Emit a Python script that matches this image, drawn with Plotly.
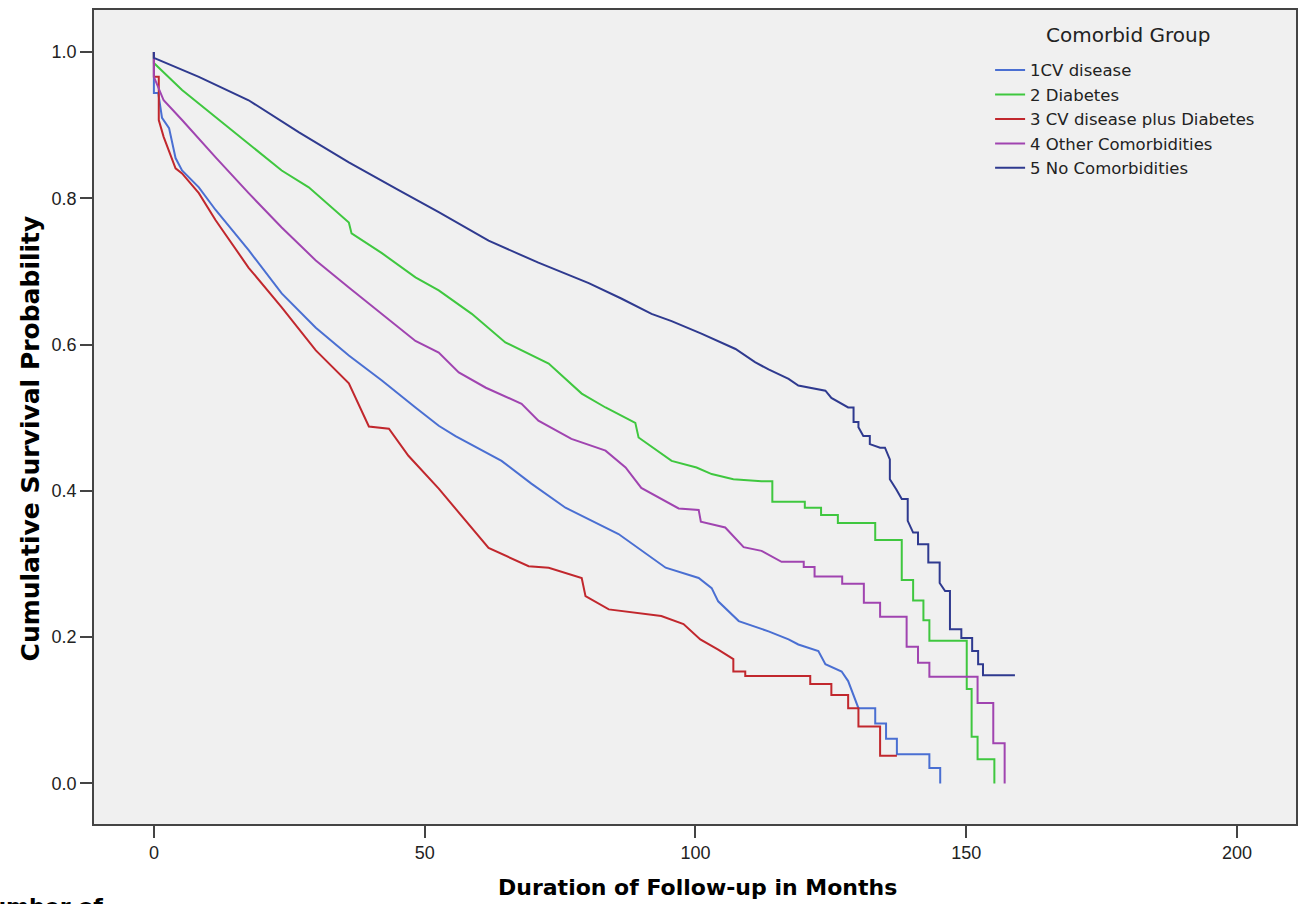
import plotly.graph_objects as go

# ---- data (months, cumulative survival) ----
t_cv = [0, 0, 0.8, 1.5, 2.8, 4, 5.2, 8.3, 11.4, 17.5, 23.6, 29.9, 36, 42.1, 48.3, 52.6, 55.7,
        64.2, 69.7, 76, 85.8, 94.5, 100.6, 103, 104.2, 108, 113.5, 117.2, 119, 122.7, 124,
        127, 128.2, 129.2, 130.1, 133.2, 133.2, 135.2, 135.2, 137.2, 137.2, 143.2, 143.2,
        145.2, 145.2]
s_cv = [1.0, 0.944, 0.944, 0.91, 0.896, 0.855, 0.838, 0.815, 0.784, 0.729, 0.67, 0.623, 0.585,
        0.551, 0.514, 0.489, 0.475, 0.441, 0.41, 0.377, 0.341, 0.295, 0.281, 0.267, 0.249,
        0.222, 0.208, 0.197, 0.19, 0.181, 0.163, 0.153, 0.14, 0.119, 0.103, 0.103, 0.082,
        0.082, 0.061, 0.061, 0.040, 0.040, 0.021, 0.021, 0.0]

t_diab = [0, 0, 5.2, 11.4, 17.5, 23.6, 28.6, 36, 36.5, 42.1, 48.3, 52.6, 58.7, 64.9, 72.9, 79,
          83.4, 88.9, 89.5, 95.6, 100.2, 103, 107, 112.2, 114.2, 114.2, 120.2, 120.2, 123.2,
          123.2, 126.3, 126.3, 133.2, 133.2, 138.1, 138.1, 140.2, 140.2, 142.1, 142.1, 143.2,
          143.2, 150.1, 150.1, 151.0, 151.0, 152.1, 152.1, 155.2, 155.2]
s_diab = [1.0, 0.985, 0.948, 0.911, 0.875, 0.838, 0.815, 0.767, 0.752, 0.725, 0.692, 0.674,
          0.642, 0.603, 0.574, 0.533, 0.514, 0.493, 0.473, 0.441, 0.432, 0.423, 0.416, 0.413,
          0.413, 0.385, 0.385, 0.377, 0.377, 0.367, 0.367, 0.356, 0.356, 0.333, 0.333, 0.278,
          0.278, 0.25, 0.25, 0.223, 0.223, 0.195, 0.195, 0.129, 0.129, 0.064, 0.064, 0.033,
          0.033, 0.0]

t_cvdiab = [0, 0, 0.9, 0.9, 1.8, 3.1, 4, 5.2, 8.3, 11.4, 17.5, 23.6, 29.9, 36, 39.7, 43.4, 47,
            52.6, 61.8, 69.2, 72.9, 79, 79.7, 84, 90.8, 93.7, 97.8, 100.9, 104.2, 107, 107,
            109.2, 109.2, 121.2, 121.2, 125.1, 125.1, 128.2, 128.2, 130.1, 130.1, 134.1,
            134.1, 137.2]
s_cvdiab = [1.0, 0.966, 0.966, 0.907, 0.884, 0.859, 0.841, 0.834, 0.807, 0.77, 0.705, 0.651,
            0.592, 0.547, 0.488, 0.485, 0.448, 0.403, 0.322, 0.297, 0.295, 0.281, 0.256, 0.238,
            0.232, 0.229, 0.218, 0.197, 0.183, 0.17, 0.153, 0.153, 0.147, 0.147, 0.136,
            0.136, 0.121, 0.121, 0.103, 0.103, 0.078, 0.078, 0.038, 0.038]

t_other = [0, 0, 1.8, 5.2, 11.4, 17.5, 23.6, 29.9, 36, 42.1, 48.3, 52.6, 56.3, 61.3, 67.9, 71,
           77.1, 83.4, 87.1, 90, 96.9, 100.6, 101, 105.5, 108.9, 112.2, 115.9, 120, 120, 122,
           122, 127.1, 127.1, 131.1, 131.1, 134.1, 134.1, 139.0, 139.0, 141.1, 141.1, 143.2,
           143.2, 152.1, 152.1, 155.0, 155.0, 157.1, 157.1]
s_other = [1.0, 0.966, 0.934, 0.907, 0.856, 0.807, 0.76, 0.715, 0.678, 0.642, 0.605, 0.589,
           0.562, 0.541, 0.519, 0.496, 0.471, 0.455, 0.432, 0.404, 0.376, 0.374, 0.358, 0.35,
           0.323, 0.318, 0.303, 0.303, 0.296, 0.296, 0.283, 0.283, 0.273, 0.273, 0.247, 0.247,
           0.228, 0.228, 0.187, 0.187, 0.165, 0.165, 0.146, 0.146, 0.11, 0.11, 0.055, 0.055,
           0.0]

t_none = [0, 0, 8.3, 17.5, 26.8, 36, 45.2, 52.6, 61.8, 71, 80.3, 86.3, 91.9, 95.6, 101.1, 104.8,
          107.4, 111, 113.5, 117.2, 119, 124, 125.1, 128.2, 129.2, 129.2, 130.1, 130.1, 131.0,
          132.2, 132.2, 134.1, 135.0, 135.9, 135.9, 137.1, 138.1, 139.2, 139.2, 140.2, 141.1,
          141.1, 143.0, 143.0, 145.1, 145.1, 146.1, 147.0, 147.0, 149.1, 149.1, 151.1, 151.1,
          152.2, 152.2, 153.1, 153.1, 159.0]
s_none = [1.0, 0.992, 0.966, 0.934, 0.89, 0.849, 0.811, 0.781, 0.742, 0.712, 0.684, 0.663,
          0.642, 0.632, 0.615, 0.603, 0.594, 0.576, 0.566, 0.553, 0.544, 0.537, 0.527, 0.514,
          0.514, 0.494, 0.494, 0.487, 0.475, 0.475, 0.464, 0.459, 0.459, 0.443, 0.416, 0.402,
          0.389, 0.389, 0.359, 0.343, 0.343, 0.327, 0.327, 0.302, 0.302, 0.274, 0.263, 0.263,
          0.211, 0.211, 0.199, 0.199, 0.181, 0.181, 0.163, 0.163, 0.148, 0.148]

group_names = ["1CV disease", "2 Diabetes", "3 CV disease plus Diabetes",
               "4 Other Comorbidities", "5 No Comorbidities"]
group_colors = ["#4A6FD2", "#3FC73F", "#C1272D", "#A044B0", "#2F3A8F"]
series_t = [t_cv, t_diab, t_cvdiab, t_other, t_none]
series_s = [s_cv, s_diab, s_cvdiab, s_other, s_none]

x_ticks = [0, 50, 100, 150, 200]
y_ticks = [0.0, 0.2, 0.4, 0.6, 0.8, 1.0]

fig = go.Figure()
for name, color, tt, ss in zip(group_names, group_colors, series_t, series_s):
    fig.add_trace(go.Scatter(x=tt, y=ss, mode="lines", name=name,
                             line=dict(color=color, width=2)))

axis_common = dict(showline=True, linecolor="#444444", linewidth=1.5, mirror=True,
                   ticks="outside", ticklen=12, tickwidth=1.5, tickcolor="#444444",
                   showgrid=False, zeroline=False,
                   tickfont=dict(family="Liberation Sans, Arial, sans-serif", size=18,
                                 color="#222222"))

fig.update_layout(
    width=1300, height=904,
    margin=dict(l=94, r=2, t=10, b=80),
    paper_bgcolor="white", plot_bgcolor="#F0F0F0",
    font=dict(family="Liberation Sans, Arial, sans-serif", color="#222222"),
    xaxis=dict(range=[-11.06, 210.9], tickvals=x_ticks, **axis_common),
    yaxis=dict(range=[-0.0554, 1.0574], tickvals=y_ticks, tickformat=".1f", **axis_common),
    legend=dict(x=0.7455, y=0.9474, xanchor="left", yanchor="top",
                bgcolor="rgba(0,0,0,0)", borderwidth=0,
                font=dict(family="DejaVu Sans, sans-serif", size=16.5, color="#222222"),
                tracegroupgap=0),
    showlegend=True,
)

fig.add_annotation(text="Comorbid Group", xref="paper", yref="paper",
                   x=(1130 - 94) / 1204, y=(824 - 35) / 814,
                   xanchor="center", yanchor="middle", showarrow=False,
                   font=dict(family="DejaVu Sans, sans-serif", size=20, color="#222222"))
fig.add_annotation(text="<b>Cumulative Survival Probability</b>", textangle=-90,
                   xref="paper", yref="paper", x=-0.053, y=0.474,
                   xanchor="center", yanchor="middle", showarrow=False,
                   font=dict(family="DejaVu Sans, sans-serif", size=25, color="black"))
fig.add_annotation(text="<b>Duration of Follow-up in Months</b>",
                   xref="paper", yref="paper", x=0.502, y=-0.0786,
                   xanchor="center", yanchor="middle", showarrow=False,
                   font=dict(family="DejaVu Sans, sans-serif", size=22, color="black"))
fig.add_annotation(text="<b>Number of</b>",
                   xref="paper", yref="paper", x=0.0091, y=-0.0836,
                   xanchor="right", yanchor="top", showarrow=False,
                   font=dict(family="DejaVu Sans, sans-serif", size=22, color="black"))

# remove the default 8px page margin so the figure fills the 1300x904 window exactly
fig.write_html("out.html", config={"displayModeBar": False},
               post_script="document.body.style.margin='0';")
